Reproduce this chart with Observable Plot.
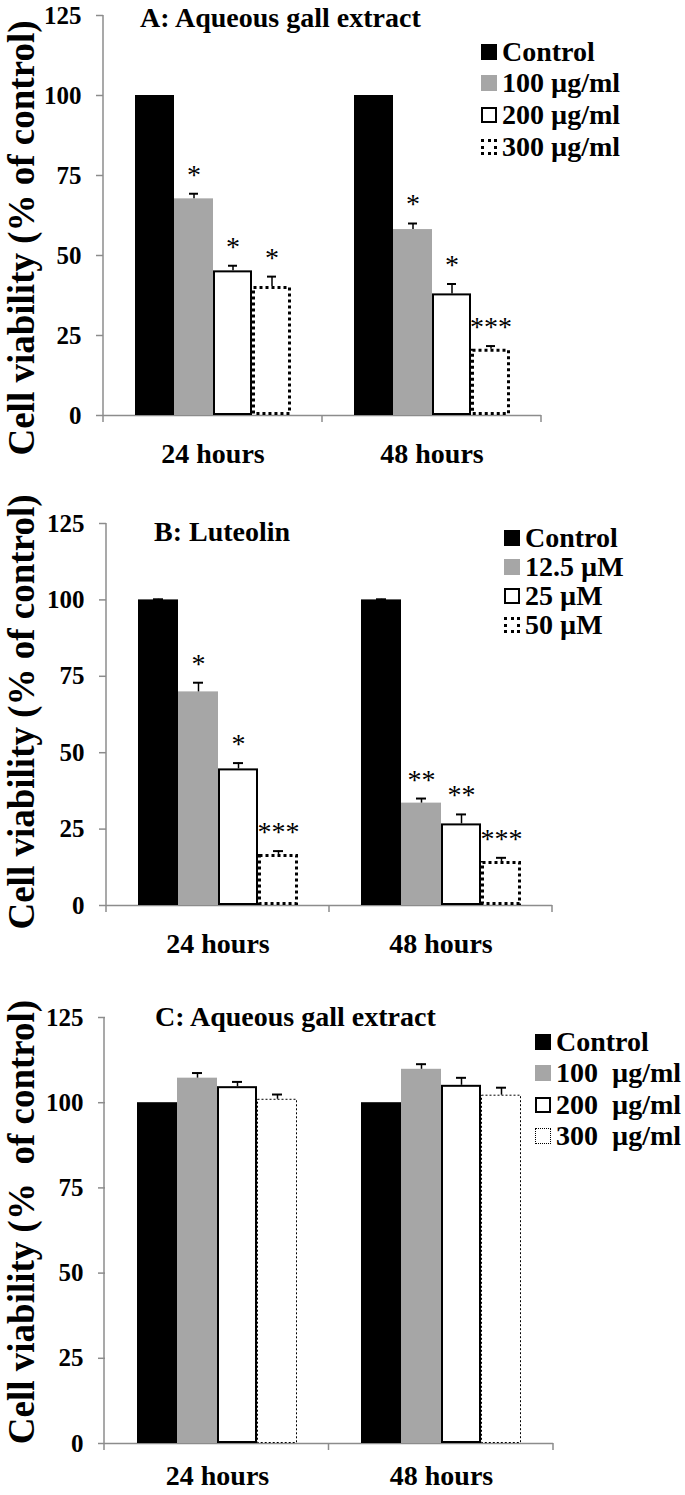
<!DOCTYPE html>
<html>
<head>
<meta charset="utf-8">
<script src="https://cdn.jsdelivr.net/npm/d3@7"></script>
<script src="https://cdn.jsdelivr.net/npm/@observablehq/plot@0.6"></script>
<style>
  html, body { margin: 0; padding: 0; background: #fff; }
  #root { position: relative; width: 685px; height: 1495px; overflow: hidden; font-family: "Liberation Serif", "Times New Roman", serif; font-weight: bold; color: #000; }
  .panel { position: absolute; left: 0; }
  .title, .ylabel, .legend-row { position: absolute; white-space: pre; line-height: 1; }
  .ylabel { transform: translate(-50%, -50%) rotate(-90deg); }
  .legend-row { display: flex; align-items: center; transform: translateY(-50%); }
  .sw { box-sizing: border-box; margin-right: 5px; flex: none; }
</style>
</head>
<body>
<div id="root"></div>
<script>
// ---------- data ----------
const times = ["24 hours", "48 hours"];
const yTicks = [0, 25, 50, 75, 100, 125];

// Panel A: aqueous gall extract
const titleA = "A: Aqueous gall extract";
const dosesA = ["Control", "100 µg/ml", "200 µg/ml", "300 µg/ml"];
const meanA24 = [100, 67.7, 45.2, 40.3];
const meanA48 = [100, 58.1, 38.0, 20.7];
const errA24 = [0, 1.6, 1.6, 3.1];
const errA48 = [0, 1.9, 3.1, 1.0];
const sigA24 = ["", "*", "*", "*"];
const sigA48 = ["", "*", "*", "***"];

// Panel B: luteolin
const titleB = "B: Luteolin";
const dosesB = ["Control", "12.5 µM", "25 µM", "50 µM"];
const meanB24 = [100, 69.9, 44.7, 16.7];
const meanB48 = [100, 33.5, 26.7, 14.4];
const errB24 = [0.2, 3.0, 1.9, 1.1];
const errB48 = [0.2, 1.5, 3.1, 1.2];
const sigB24 = ["", "*", "*", "***"];
const sigB48 = ["", "**", "**", "***"];

// Panel C: aqueous gall extract (normal cells)
const titleC = "C: Aqueous gall extract";
const dosesC = ["Control", "100  µg/ml", "200  µg/ml", "300  µg/ml"];
const meanC24 = [100, 107.2, 104.7, 101.0];
const meanC48 = [100, 109.8, 105.1, 102.2];
const errC24 = [0, 1.5, 1.4, 1.4];
const errC48 = [0, 1.5, 2.2, 2.2];
const sigC24 = ["", "", "", ""];
const sigC48 = ["", "", "", ""];

const yLabelAB = "Cell viability (% of control)";
const yLabelC = "Cell viability (%  of control)";

// ---------- helpers ----------
function buildRows(doses, m24, m48, e24, e48, s24, s48) {
  const rows = [];
  [[m24, e24, s24], [m48, e48, s48]].forEach(([m, e, s], t) => {
    doses.forEach((d, i) => rows.push({ time: times[t], dose: d, idx: i, value: m[i], err: e[i], sig: s[i] }));
  });
  return rows;
}

const serif = "'Liberation Serif', 'Times New Roman', serif";
const axisGray = "#8c8c8c";
const grayFill = "#a6a6a6";
const root = document.getElementById("root");

function makePanel(cfg) {
  const data = buildRows(...cfg.series);
  const panel = document.createElement("div");
  panel.className = "panel";
  panel.style.top = cfg.top + "px";
  root.appendChild(panel);

  const chart = Plot.plot({
    width: 685,
    height: cfg.height,
    marginTop: cfg.marginTop,
    marginBottom: cfg.marginBottom,
    marginLeft: cfg.marginLeft,
    marginRight: cfg.marginRight,
    style: { fontFamily: serif, fontWeight: "bold", fontSize: "25px", color: "#000", background: "transparent", overflow: "visible" },
    fx: { domain: times, padding: 0, label: null },
    x: { domain: cfg.series[0], paddingInner: 0, paddingOuter: 0.75, axis: null, label: null },
    y: { domain: [0, 125], label: null },
    marks: [
      Plot.axisY({ ticks: yTicks, tickSize: 7, tickPadding: 15, stroke: axisGray, strokeWidth: 1.5, fontSize: 25, fill: "#000", label: null }),
      Plot.axisFx({ anchor: "bottom", tickSize: 0, tickPadding: cfg.groupPad, fontSize: 28, fill: "#000", label: null }),
      Plot.ruleY([0], { stroke: axisGray, strokeWidth: 1.5 }),
      Plot.barY(data, { filter: d => d.idx === 0, fx: "time", x: "dose", y: "value", fill: "#000" }),
      Plot.barY(data, { filter: d => d.idx === 1, fx: "time", x: "dose", y: "value", fill: grayFill }),
      Plot.barY(data, { filter: d => d.idx === 2, fx: "time", x: "dose", y: "value", fill: "#fff", stroke: "#000", strokeWidth: 2, inset: 1 }),
      Plot.barY(data, { filter: d => d.idx === 3, fx: "time", x: "dose", y: "value", fill: "#fff", stroke: "#000", strokeWidth: cfg.dotWidth, strokeDasharray: cfg.dotDash, inset: cfg.dotWidth / 2 }),
      Plot.ruleX(data, { filter: d => d.err > 0, fx: "time", x: "dose", y1: "value", y2: d => d.value + d.err, stroke: "#000", strokeWidth: 1.5 }),
      Plot.tickY(data, { filter: d => d.err > 0, fx: "time", x: "dose", y: d => d.value + d.err, stroke: "#000", strokeWidth: 2, insetLeft: 15, insetRight: 15 }),
      Plot.text(data, { filter: d => d.sig, fx: "time", x: "dose", y: d => d.value + d.err, text: "sig", dy: -19, fontSize: 28, fontWeight: "normal", fill: "#000", fontFamily: serif })
    ]
  });
  panel.appendChild(chart);

  // y-axis line and x-axis boundary ticks, from the plot's own scales
  const fx = chart.scale("fx");
  const y = chart.scale("y");
  const yScale = d3.scaleLinear().domain(y.domain).range(y.range);
  const fxBand = d3.scaleBand().domain(fx.domain).range(fx.range).padding(0);
  const svg = d3.select(chart);
  const g = svg.append("g").attr("stroke", axisGray).attr("stroke-width", 1.5);
  const x0 = fx.range[0];
  g.append("line").attr("x1", x0).attr("x2", x0).attr("y1", yScale(125)).attr("y2", yScale(0));
  const bounds = fx.domain.map(d => fxBand(d)).concat([fxBand(fx.domain[fx.domain.length - 1]) + fxBand.bandwidth()]);
  bounds.forEach(b => g.append("line").attr("x1", b).attr("x2", b).attr("y1", yScale(0)).attr("y2", yScale(0) + 7));

  // title
  const t = document.createElement("div");
  t.className = "title";
  t.textContent = cfg.title;
  t.style.left = cfg.titleX + "px";
  t.style.top = (cfg.titleY - 14) + "px";
  t.style.fontSize = "28px";
  root.appendChild(t);

  // y label
  const yl = document.createElement("div");
  yl.className = "ylabel";
  yl.textContent = cfg.ylabel;
  yl.style.left = cfg.ylabelX + "px";
  yl.style.top = cfg.ylabelY + "px";
  yl.style.fontSize = "37px";
  root.appendChild(yl);

  // legend
  cfg.series[0].forEach((d, i) => {
    const row = document.createElement("div");
    row.className = "legend-row";
    row.style.left = cfg.legendX + "px";
    row.style.top = cfg.legendRows[i] + "px";
    row.style.fontSize = "28px";
    const sw = document.createElement("div");
    sw.className = "sw";
    sw.style.width = "16px";
    sw.style.height = "16px";
    if (i === 0) sw.style.background = "#000";
    if (i === 1) sw.style.background = grayFill;
    if (i === 2) { sw.style.background = "#fff"; sw.style.border = "2px solid #000"; }
    if (i === 3) { sw.style.background = "#fff"; sw.style.border = cfg.dotWidth + "px dotted #000"; }
    const lab = document.createElement("span");
    lab.textContent = d;
    row.appendChild(sw);
    row.appendChild(lab);
    root.appendChild(row);
  });
}

makePanel({
  top: 0, height: 480, marginTop: 15, marginBottom: 65, marginLeft: 103, marginRight: 144, groupPad: 28,
  series: [dosesA, meanA24, meanA48, errA24, errA48, sigA24, sigA48],
  dotWidth: 3, dotDash: "3,3",
  title: titleA, titleX: 140, titleY: 18,
  ylabel: yLabelAB, ylabelX: 21, ylabelY: 238,
  legendX: 481, legendRows: [52, 83, 115, 147]
});
makePanel({
  top: 490, height: 480, marginTop: 33, marginBottom: 65, marginLeft: 106, marginRight: 133, groupPad: 28,
  series: [dosesB, meanB24, meanB48, errB24, errB48, sigB24, sigB48],
  dotWidth: 3, dotDash: "3,3",
  title: titleB, titleX: 154, titleY: 532,
  ylabel: yLabelAB, ylabelX: 21, ylabelY: 712,
  legendX: 504, legendRows: [538, 567, 596, 625]
});
makePanel({
  top: 1000, height: 495, marginTop: 17, marginBottom: 52, marginLeft: 104, marginRight: 132, groupPad: 22,
  series: [dosesC, meanC24, meanC48, errC24, errC48, sigC24, sigC48],
  dotWidth: 1, dotDash: "2,2",
  title: titleC, titleX: 155, titleY: 1017,
  ylabel: yLabelC, ylabelX: 21, ylabelY: 1222,
  legendX: 535, legendRows: [1042, 1073, 1105, 1136]
});
</script>
</body>
</html>
